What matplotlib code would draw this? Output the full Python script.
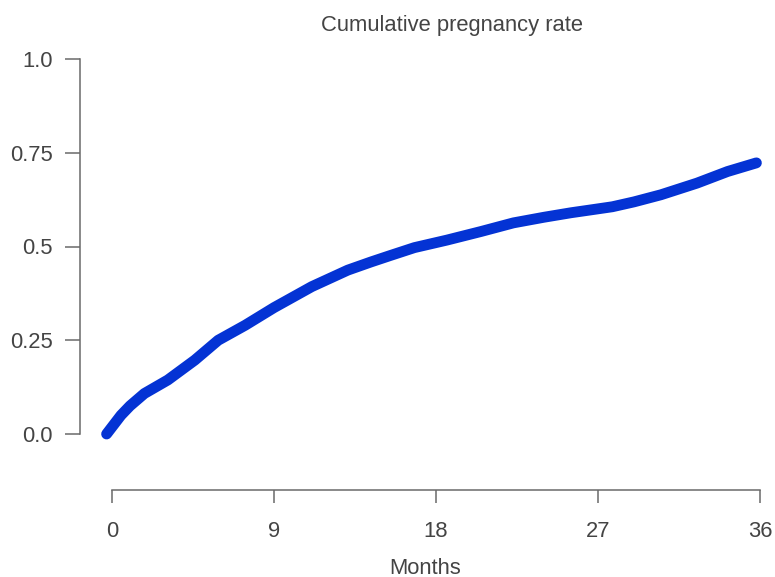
import numpy as np
import matplotlib
matplotlib.use("Agg")
import matplotlib.pyplot as plt

plt.rcParams['font.family'] = ['Liberation Sans', 'DejaVu Sans']

# curve
months = [-0.3, 0.5, 1.0, 1.8, 3.1, 4.6, 5.9, 7.4, 9.0, 11.1, 13.1, 14.4, 15.4, 16.8,
          18.6, 20.5, 22.3, 24.0, 25.5, 26.8, 27.8, 29.0, 30.5, 32.5, 34.2, 35.8]
rate = [0.0, 0.05, 0.075, 0.108, 0.144, 0.197, 0.25, 0.29, 0.337, 0.393, 0.437, 0.459, 0.475, 0.497,
        0.517, 0.54, 0.563, 0.578, 0.590, 0.599, 0.606, 0.619, 0.638, 0.669, 0.700, 0.723]

x_ticks = [0, 9, 18, 27, 36]
y_ticks = [0.0, 0.25, 0.5, 0.75, 1.0]
y_labels = ['0.0', '0.25', '0.5', '0.75', '1.0']

fig = plt.figure(figsize=(7.75, 5.77), dpi=100)
ax = fig.add_axes([80 / 775, 87 / 577, 690 / 775, 450 / 577])

ax.plot(months, rate, color='#0433d4', lw=7.8, solid_capstyle='round', solid_joinstyle='round')

ax.set_xlim(-32 / 18, 658 / 18)
ax.set_ylim(-56 / 375, 394 / 375)

for s in ['top', 'right']:
    ax.spines[s].set_visible(False)
ax.spines['left'].set_bounds(0, 1)
ax.spines['bottom'].set_bounds(0, 36)
for s in ['left', 'bottom']:
    ax.spines[s].set_color('#6a6a6a')
    ax.spines[s].set_linewidth(1.1)

ax.set_xticks(x_ticks)
ax.set_yticks(y_ticks)
ax.set_yticklabels(y_labels)
ax.tick_params(axis='y', length=10.5, width=1.1, color='#6a6a6a', pad=9, labelsize=15.8, labelcolor='#444444')
ax.tick_params(axis='x', length=9.5, width=1.1, color='#6a6a6a', pad=13, labelsize=15.8, labelcolor='#444444')

ax.set_xlabel('Months', fontsize=15.8, color='#444444', labelpad=11)
fig.text(452 / 775, 1 - 25 / 577, 'Cumulative pregnancy rate', ha='center', va='center',
         fontsize=15.8, color='#444444')

fig.savefig('out.png', dpi=100)
